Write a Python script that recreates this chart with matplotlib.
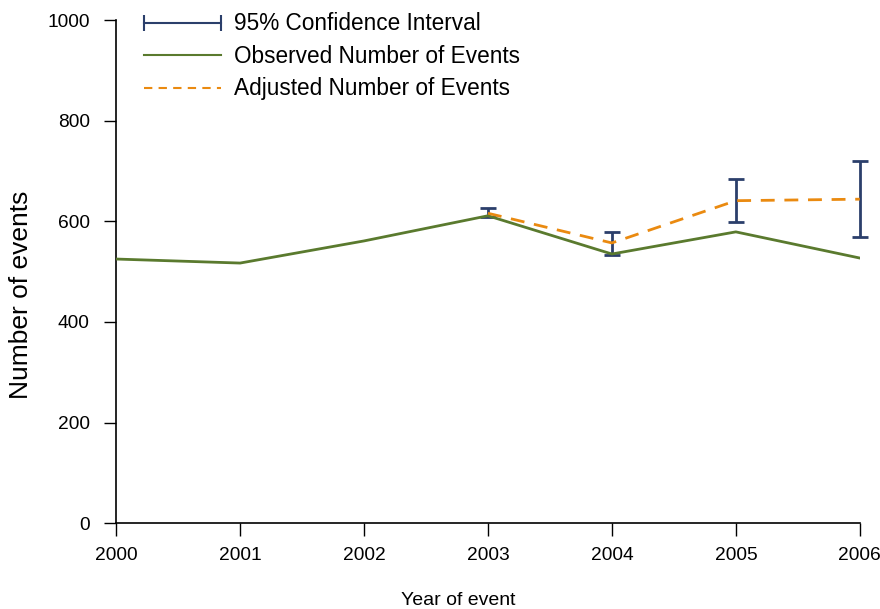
import numpy as np
import matplotlib.pyplot as plt
from matplotlib.lines import Line2D

plt.rcParams['font.family'] = ['Liberation Sans', 'DejaVu Sans']

years = [2000, 2001, 2002, 2003, 2004, 2005, 2006]
observed = [525, 517, 561, 611, 535, 579, 527]

adj_years = [2003, 2004, 2005, 2006]
adjusted = [616, 557, 641, 644]
ci_low = [608, 534, 598, 569]
ci_high = [626, 578, 685, 720]

navy = '#2b3f6b'
green = '#5a7a2e'
orange = '#ea8a10'

fig = plt.figure(figsize=(8.8, 6.09), dpi=100)
ax = fig.add_axes([0.132, 0.141, 0.845, 0.826])

adj = np.array(adjusted)
yerr = [adj - np.array(ci_low), np.array(ci_high) - adj]
eb = ax.errorbar(adj_years, adjusted, yerr=yerr, fmt='none', ecolor=navy,
                 elinewidth=2, capsize=6, capthick=2, zorder=2)
for artist in eb.lines[1] + eb.lines[2]:
    artist.set_clip_on(False)
ax.plot(years, observed, '-', color=green, linewidth=2, zorder=3)
ax.plot(adj_years, adjusted, '--', color=orange, linewidth=2,
        dashes=(5, 3.5), zorder=4)

ax.set_xlim(2000, 2006)
ax.set_ylim(0, 1000)
ax.set_xticks(years)
ax.set_yticks(range(0, 1001, 200))
ax.tick_params(axis='both', labelsize=13.8, direction='out', length=9, width=1)
ax.tick_params(axis='x', pad=8)
ax.tick_params(axis='y', pad=10)
for side in ('top', 'right'):
    ax.spines[side].set_visible(False)
for side in ('left', 'bottom'):
    ax.spines[side].set_linewidth(1.2)

ax.set_ylabel('Number of events', fontsize=19)
ax.yaxis.set_label_coords(-0.112, 0.453)
ax.set_xlabel('Year of event', fontsize=14)
ax.xaxis.set_label_coords(0.46, -0.137)

handles = [
    Line2D([], [], color=navy, linewidth=1.5, marker='|', markersize=12,
           markeredgewidth=1.5),
    Line2D([], [], color=green, linewidth=1.5),
    Line2D([], [], color=orange, linewidth=1.5, linestyle='--', dashes=(4, 3)),
]
labels = ['95% Confidence Interval', 'Observed Number of Events',
          'Adjusted Number of Events']
fig.legend(handles, labels, loc='upper left', bbox_to_anchor=(0.1325, 1.013),
           frameon=False, fontsize=16.3, numpoints=2, handlelength=4.0,
           handletextpad=0.3, labelspacing=0.42)

plt.savefig('out.png')
